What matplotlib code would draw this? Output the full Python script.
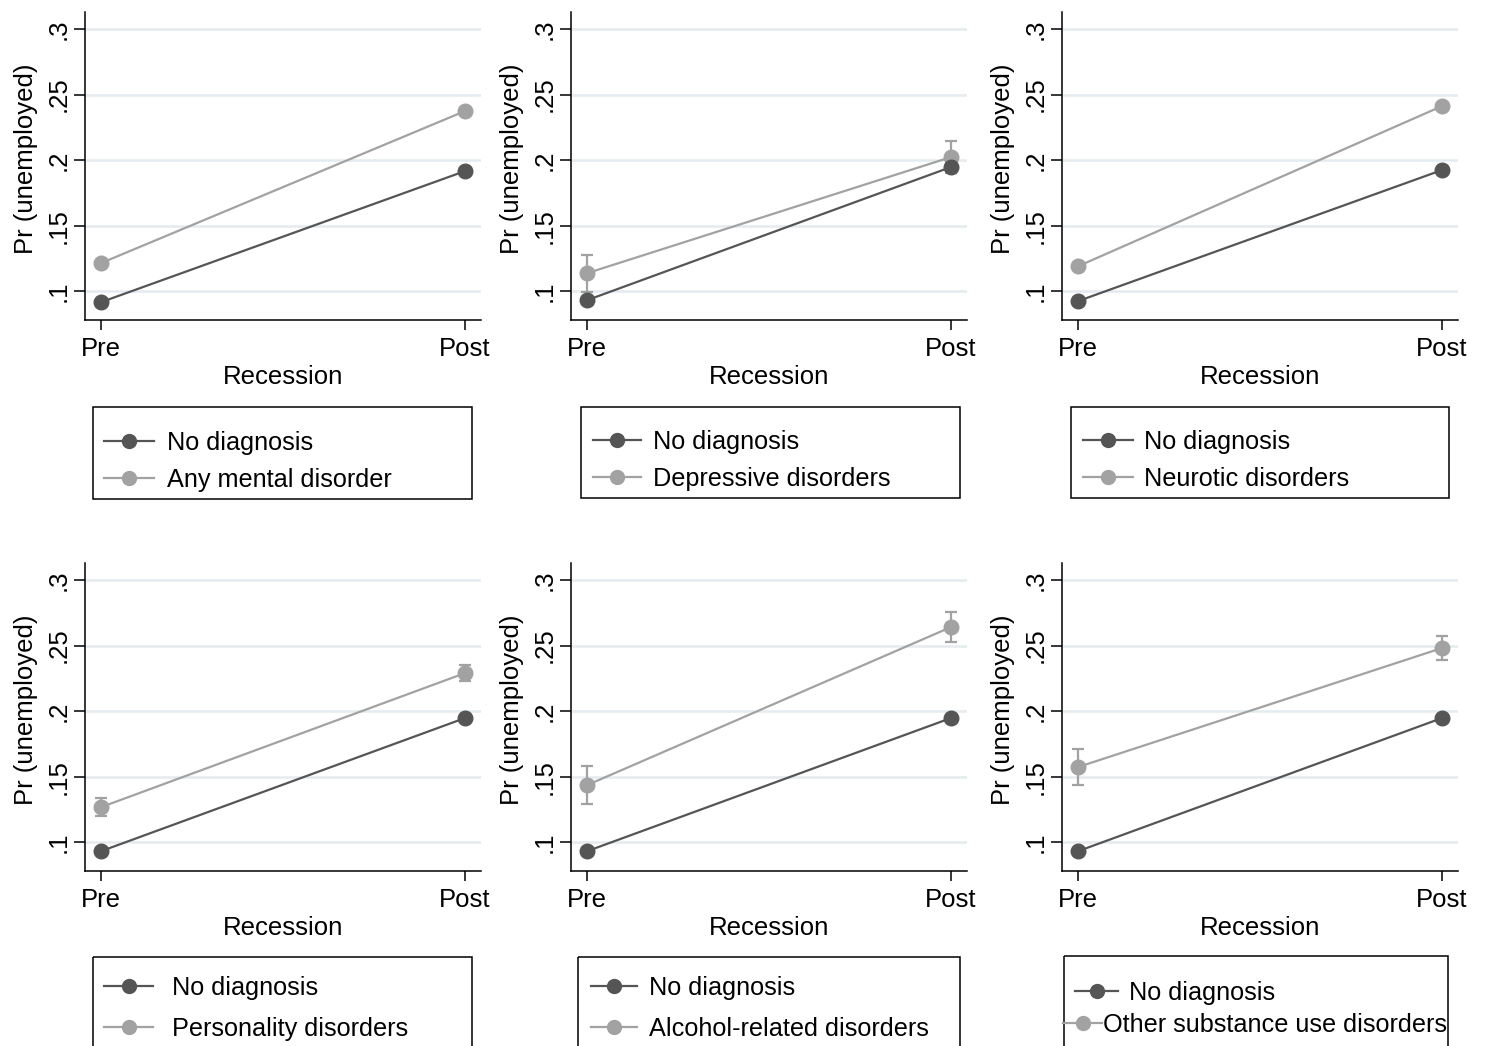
import numpy as np
import matplotlib
matplotlib.use('Agg')
import matplotlib.pyplot as plt
from matplotlib.lines import Line2D
from matplotlib.patches import Rectangle

plt.rcParams['font.family'] = ['Liberation Sans', 'DejaVu Sans']

x_labels = ['Pre', 'Post']
disorder_names = ['Any mental disorder', 'Depressive disorders', 'Neurotic disorders',
                  'Personality disorders', 'Alcohol-related disorders', 'Other substance use disorders']

# predicted Pr(unemployed), pre / post recession
no_diag_pr = [[0.0916, 0.1916], [0.0931, 0.1947], [0.0924, 0.1924],
              [0.0931, 0.1947], [0.0931, 0.1947], [0.0931, 0.1947]]
no_diag_ci = [[0.001, 0.001], [0.001, 0.001], [0.001, 0.001],
              [0.001, 0.001], [0.001, 0.001], [0.001, 0.001]]
disorder_pr = [[0.1214, 0.2374], [0.1137, 0.2023], [0.1190, 0.2412],
               [0.1267, 0.2290], [0.1435, 0.2641], [0.1573, 0.2481]]
disorder_ci = [[0.002, 0.002], [0.014, 0.012], [0.002, 0.002],
               [0.007, 0.006], [0.0145, 0.0115], [0.0135, 0.009]]

dark = '#555555'
light = '#a2a2a2'
grid_col = '#e4ecef'
fs = 18.5
leg_fs = 18.2

W, H = 1485, 1046
fig = plt.figure(figsize=(W / 100, H / 100), dpi=100)
fig.patch.set_facecolor('white')

col_left = [85, 571, 1062]
ax_w = 396
row_top = [12, 563]
ax_h = 308

for i in range(6):
    r, c = divmod(i, 3)
    ax = fig.add_axes([col_left[c] / W, 1 - (row_top[r] + ax_h) / H, ax_w / W, ax_h / H])
    x = np.arange(len(x_labels))
    ax.errorbar(x, no_diag_pr[i], yerr=no_diag_ci[i], color=dark, lw=1.6, marker='o',
                ms=10.5, capsize=4, elinewidth=1.6, capthick=1.6, zorder=4)
    ax.errorbar(x, disorder_pr[i], yerr=disorder_ci[i], color=light, lw=1.6, marker='o',
                ms=10.5, capsize=4, elinewidth=1.6, capthick=1.6, zorder=3)
    ax.set_xlim(-0.044, 1.044)
    ax.set_ylim(0.078, 0.313)
    ax.set_yticks([0.1, 0.15, 0.2, 0.25, 0.3])
    ax.set_yticklabels(['.1', '.15', '.2', '.25', '.3'], rotation=90, va='center')
    ax.set_xticks(x)
    ax.set_xticklabels(x_labels)
    ax.yaxis.grid(True, color=grid_col, lw=1.8)
    ax.set_axisbelow(True)
    for s in ['top', 'right']:
        ax.spines[s].set_visible(False)
    for s in ['left', 'bottom']:
        ax.spines[s].set_linewidth(1.1)
    ax.tick_params(axis='y', length=8, width=1.1, pad=2, labelsize=fs)
    ax.tick_params(axis='x', length=7, width=1.1, pad=5, labelsize=fs)
    ax.set_xlabel('Recession', fontsize=fs)
    ax.set_ylabel('Pr (unemployed)', fontsize=fs)
    ax.xaxis.set_label_coords(0.5, -0.145)
    ax.yaxis.set_label_coords(-0.119, 0.523)

# legends: drawn on a pixel overlay so boxes match the Stata layout
ov = fig.add_axes([0, 0, 1, 1], zorder=10)
ov.set_xlim(0, W)
ov.set_ylim(H, 0)
ov.axis('off')
ov.patch.set_alpha(0)

# box (x0, x1, y0, y1); entries: (handle x0, handle x1, text x, baseline y)
leg_boxes = [(93, 472, 407, 499), (581, 960, 407, 498), (1071, 1449, 407, 498),
             (93, 472, 957, 1060), (578, 960, 957, 1060), (1064, 1448, 956, 1060)]
leg_entries = [[(104, 154, 167, 450), (104, 154, 167, 487)],
               [(593, 641, 653, 449), (593, 641, 653, 486)],
               [(1083, 1133, 1144, 449), (1083, 1133, 1144, 486)],
               [(104, 153, 172, 995), (104, 153, 172, 1036)],
               [(591, 637, 649, 995), (591, 637, 649, 1036)],
               [(1075, 1118, 1129, 1000), (1063, 1102, 1103, 1032)]]

for i in range(6):
    x0, x1, y0, y1 = leg_boxes[i]
    ov.add_patch(Rectangle((x0, y0), x1 - x0, y1 - y0, fill=False, ec='black', lw=1.1))
    labels = ['No diagnosis', disorder_names[i]]
    for (hx0, hx1, tx, by), col, lab in zip(leg_entries[i], [dark, light], labels):
        yc = by - 9
        ov.add_line(Line2D([hx0, hx1], [yc, yc], color=col, lw=1.6))
        ov.add_line(Line2D([(hx0 + hx1) / 2], [yc], color=col, marker='o', ms=10, ls='none'))
        ov.text(tx, by, lab, fontsize=leg_fs, va='baseline', ha='left')

fig.savefig('out.png', dpi=100)
